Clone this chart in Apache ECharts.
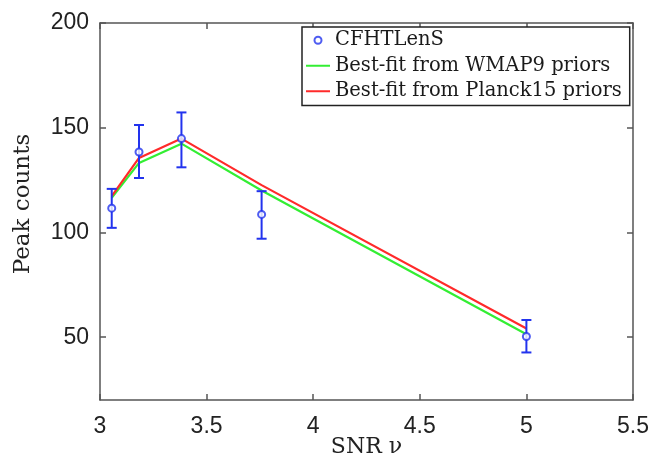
<!DOCTYPE html>
<html><head><meta charset="utf-8">
<script src="https://cdn.jsdelivr.net/npm/echarts@6/dist/echarts.min.js"></script>
<style>html,body{margin:0;padding:0;background:#fff}#c{width:654px;height:457px}</style>
</head><body><div id="c"></div>
<script>
const snr = [3.055, 3.183, 3.382, 3.758, 5.0];
const peaks = [111.6, 138.4, 144.8, 108.6, 50.3];
const errLow = [102.2, 126.0, 131.1, 97.0, 42.7];
const errHigh = [120.8, 151.3, 157.3, 119.7, 58.2];
const wmap9 = [116.5, 133.2, 142.4, 120.0, 51.4];
const planck15 = [117.3, 135.6, 144.8, 122.6, 54.1];
const xTicks = [3, 3.5, 4, 4.5, 5, 5.5];
const yTicks = [50, 100, 150, 200];

const chart = echarts.init(document.getElementById('c'));
const axisCol = '#555';
const tickFont = {fontFamily: 'Liberation Sans', fontSize: 23, color: '#222'};
const serif = 'DejaVu Serif';
chart.setOption({
  animation: false,
  grid: {left: 100, right: 21, top: 23, bottom: 57, show: false, outerBoundsMode: 'none', containLabel: false},
  legend: {
    left: 302, top: 27, orient: 'vertical', itemGap: 5, itemWidth: 24, itemHeight: 7,
    padding: [3, 8, 4, 3], backgroundColor: '#fff', borderColor: '#222', borderWidth: 1.5,
    textStyle: {fontFamily: serif, fontSize: 19.5, color: '#1a1a1a', lineHeight: 20.5},
    data: [
      {name: 'CFHTLenS', icon: 'emptyCircle'},
      {name: 'Best-fit from WMAP9 priors', itemStyle: {opacity: 0}},
      {name: 'Best-fit from Planck15 priors', itemStyle: {opacity: 0}}
    ]
  },
  xAxis: [{
    type: 'value', min: 3, max: 5.5, interval: 0.5,
    name: 'SNR ν', nameLocation: 'middle', nameGap: 36, nameMoveOverlap: false,
    nameTextStyle: {fontFamily: serif, fontSize: 22, color: '#222'},
    axisLine: {show: true, onZero: false, lineStyle: {color: axisCol, width: 1.5}},
    axisTick: {show: true, inside: true, length: 6, lineStyle: {color: axisCol, width: 1.5}},
    axisLabel: Object.assign({margin: 15, formatter: v => String(v)}, tickFont),
    splitLine: {show: false}
  }, {
    type: 'value', min: 3, max: 5.5, interval: 0.5, position: 'top',
    axisLine: {show: true, onZero: false, lineStyle: {color: axisCol, width: 1.5}},
    axisTick: {show: true, inside: true, length: 6, lineStyle: {color: axisCol, width: 1.5}},
    axisLabel: {show: false}, splitLine: {show: false}
  }],
  yAxis: [{
    type: 'value', min: 20, max: 200,
    name: 'Peak counts', nameLocation: 'middle', nameGap: 65, nameMoveOverlap: false,
    nameTextStyle: {fontFamily: serif, fontSize: 23, color: '#222', padding: [0, 0, 0, 15]},
    axisLine: {show: true, onZero: false, lineStyle: {color: axisCol, width: 1.5}},
    axisTick: {show: true, inside: true, length: 6, customValues: yTicks, lineStyle: {color: axisCol, width: 1.5}},
    axisLabel: Object.assign({margin: 11, customValues: yTicks}, tickFont),
    splitLine: {show: false}
  }, {
    type: 'value', min: 20, max: 200, position: 'right',
    axisLine: {show: true, onZero: false, lineStyle: {color: axisCol, width: 1.5}},
    axisTick: {show: true, inside: true, length: 6, customValues: yTicks, lineStyle: {color: axisCol, width: 1.5}},
    axisLabel: {show: false, customValues: yTicks}, splitLine: {show: false}
  }],
  series: [
    {
      name: 'Best-fit from WMAP9 priors', type: 'line', symbol: 'none',
      data: snr.map((x, i) => [x, wmap9[i]]),
      lineStyle: {color: '#33ee33', width: 2.2}, itemStyle: {color: '#33ee33'}, z: 2
    },
    {
      name: 'Best-fit from Planck15 priors', type: 'line', symbol: 'none',
      data: snr.map((x, i) => [x, planck15[i]]),
      lineStyle: {color: '#ff2a2a', width: 2.2}, itemStyle: {color: '#ff2a2a'}, z: 3
    },
    {
      name: 'errbars', type: 'custom', z: 4,
      data: snr.map((x, i) => [x, errLow[i], errHigh[i]]),
      renderItem: function (params, api) {
        const lo = api.coord([api.value(0), api.value(1)]);
        const hi = api.coord([api.value(0), api.value(2)]);
        const hw = 5;
        const st = {stroke: '#2233ee', lineWidth: 2};
        return {type: 'group', children: [
          {type: 'line', shape: {x1: lo[0], y1: lo[1], x2: hi[0], y2: hi[1]}, style: st},
          {type: 'line', shape: {x1: lo[0]-hw, y1: lo[1], x2: lo[0]+hw, y2: lo[1]}, style: st},
          {type: 'line', shape: {x1: hi[0]-hw, y1: hi[1], x2: hi[0]+hw, y2: hi[1]}, style: st}
        ]};
      }
    },
    {
      name: 'CFHTLenS', type: 'scatter', symbol: 'emptyCircle', symbolSize: 7,
      data: snr.map((x, i) => [x, peaks[i]]),
      itemStyle: {color: '#2233ee', borderColor: '#2233ee', borderWidth: 2}, z: 5
    }
  ]
});
</script></body></html>
